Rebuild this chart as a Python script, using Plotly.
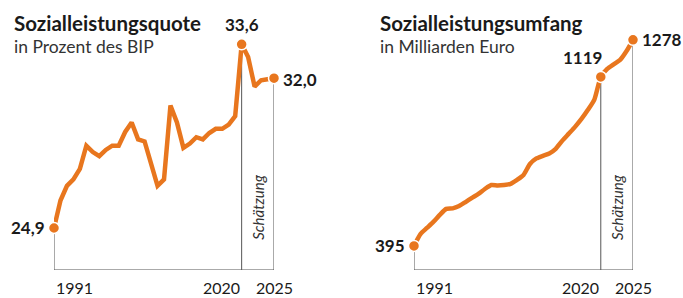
import plotly.graph_objects as go

years = list(range(1991, 2026))
quote = [24.9, 26.2, 26.9, 27.2, 27.7, 28.8, 28.5, 28.3, 28.6, 28.8,
         28.8, 29.45, 29.9, 29.1, 29.0, 28.0, 26.9, 27.2, 30.7, 29.9,
         28.7, 28.9, 29.2, 29.1, 29.4, 29.6, 29.6, 29.8, 30.2, 33.6,
         33.0, 31.6, 31.9, 31.95, 32.0]
umfang = [395, 446, 472, 498, 528, 554, 556, 566, 583, 601,
          618, 639, 656, 654, 656, 661, 678, 699, 746, 770,
          781, 791, 811, 845, 875, 905, 939, 978, 1022, 1119,
          1153, 1173, 1192, 1230, 1278]
tick_years = [1991, 2020, 2025]
est_start, est_end = 2020, 2025
label_left = ["24,9", "33,6", "32,0"]
label_right = ["395", "1119", "1278"]
titles = ["Sozialleistungsquote", "Sozialleistungsumfang"]
subtitles = ["in Prozent des BIP", "in Milliarden Euro"]

W, H = 683, 298
ORANGE = "#E8761E"
AX = "#555555"
TXT = "#1a1a1a"
FONT = "Lato, Roboto, sans-serif"

def px(v):
    return v / W

def py(v):
    return 1 - v / H

fig = go.Figure()
yr_left = [22.91, 34.28]
yr_right = [292, 1320]

for i, (vals, xa, ya) in enumerate([(quote, "x", "y"), (umfang, "x2", "y2")]):
    fig.add_trace(go.Scatter(x=years, y=vals, xaxis=xa, yaxis=ya, mode="lines",
                             line=dict(color=ORANGE, width=4.5,
                                       shape="linear" if i == 0 else "spline",
                                       smoothing=0.6),
                             cliponaxis=False, hoverinfo="skip"))
    idx = [0, years.index(est_start), years.index(est_end)]
    fig.add_trace(go.Scatter(x=[years[k] for k in idx], y=[vals[k] for k in idx],
                             xaxis=xa, yaxis=ya, mode="markers",
                             marker=dict(color=ORANGE, size=11,
                                         line=dict(color="white", width=1.5)),
                             cliponaxis=False, hoverinfo="skip"))

ax_common = dict(showgrid=False, zeroline=False, showticklabels=False,
                 showline=False, ticks="", fixedrange=True)
fig.update_layout(
    width=W, height=H, margin=dict(l=0, r=0, t=0, b=0),
    paper_bgcolor="white", plot_bgcolor="white", showlegend=False,
    xaxis=dict(domain=[px(54), px(274)], range=[1991, 2025], **ax_common),
    yaxis=dict(domain=[py(270), py(30)], range=yr_left, **ax_common),
    xaxis2=dict(domain=[px(414), px(633)], range=[1991, 2025], anchor="y2", **ax_common),
    yaxis2=dict(domain=[py(270), py(30)], range=yr_right, anchor="x2", **ax_common),
)

shapes = []
for vals, xr, yr, yrange in [(quote, "x", "y", yr_left), (umfang, "x2", "y2", yr_right)]:
    base = yrange[0]
    line = dict(color=AX, width=1)
    shapes.append(dict(type="line", xref=xr, yref=yr, x0=years[0], x1=years[-1],
                       y0=base, y1=base, line=line))
    for yv in [years[0], est_start, est_end]:
        shapes.append(dict(type="line", xref=xr, yref=yr, x0=yv, x1=yv, y0=base,
                           y1=vals[years.index(yv)], line=line, layer="below"))
fig.update_layout(shapes=shapes)

ann = []
lf = dict(family=FONT, size=17, color=TXT, weight="bold")
ann += [
    dict(x=years[0], y=quote[0], xref="x", yref="y", text=label_left[0], showarrow=False,
         xanchor="right", yanchor="middle", xshift=-7, font=lf),
    dict(x=est_start, y=quote[years.index(est_start)], xref="x", yref="y", text=label_left[1],
         showarrow=False, xanchor="center", yanchor="bottom", yshift=7, font=lf),
    dict(x=est_end, y=quote[-1], xref="x", yref="y", text=label_left[2], showarrow=False,
         xanchor="left", yanchor="middle", xshift=7, yshift=-1, font=lf),
    dict(x=years[0], y=umfang[0], xref="x2", yref="y2", text=label_right[0], showarrow=False,
         xanchor="right", yanchor="middle", xshift=-7, font=lf),
    dict(x=est_start, y=umfang[years.index(est_start)], xref="x2", yref="y2", text=label_right[1],
         showarrow=False, xanchor="right", yanchor="bottom", yshift=7, xshift=3, font=lf),
    dict(x=est_end, y=umfang[-1], xref="x2", yref="y2", text=label_right[2], showarrow=False,
         xanchor="left", yanchor="middle", xshift=7, font=lf),
]
yf = dict(family=FONT, size=16, color=TXT)
for xr in ["x", "x2"]:
    for yv, anc in zip(tick_years, ["left", "right", "center"]):
        ann.append(dict(x=yv, y=py(287), xref=xr, yref="paper", text=str(yv), showarrow=False,
                        xanchor=anc, yanchor="middle", font=yf))
    ann.append(dict(x=(est_start + est_end) / 2, y=py(207), xref=xr, yref="paper",
                    text="<i>Schätzung</i>", showarrow=False, textangle=-90,
                    xanchor="center", yanchor="middle",
                    font=dict(family=FONT, size=15, color="#333333")))
for t, s, x0 in zip(titles, subtitles, [12, 378]):
    ann.append(dict(x=px(x0), y=py(23), xref="paper", yref="paper", text=t, showarrow=False,
                    xanchor="left", yanchor="middle",
                    font=dict(family=FONT, size=20.5, color=TXT, weight="bold")))
    ann.append(dict(x=px(x0), y=py(46), xref="paper", yref="paper", text=s, showarrow=False,
                    xanchor="left", yanchor="middle",
                    font=dict(family=FONT, size=17.5, color="#333333")))
fig.update_layout(annotations=ann)

fig.write_html("out.html", config={"displayModeBar": False},
               post_script="document.body.style.margin='0';")
